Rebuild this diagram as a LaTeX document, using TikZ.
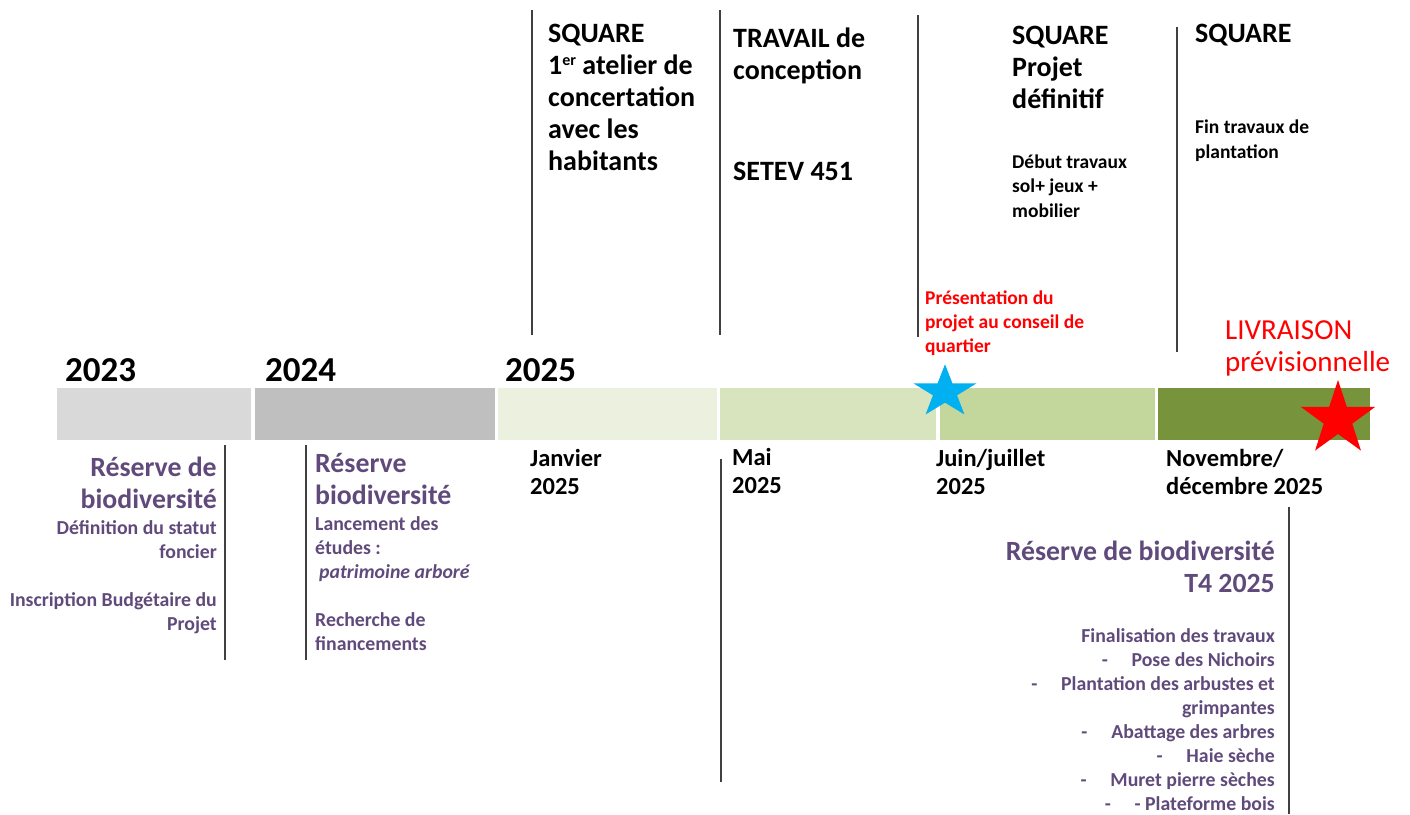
\documentclass[tikz,border=0pt]{standalone}
\usepackage{fontspec}
\setmainfont{Carlito}
\usetikzlibrary{positioning,shapes.geometric}
\definecolor{segA}{HTML}{D9D9D9}
\definecolor{segB}{HTML}{BFBFBF}
\definecolor{segC}{HTML}{EBF1DE}
\definecolor{segD}{HTML}{D7E4BD}
\definecolor{segE}{HTML}{C3D69B}
\definecolor{segF}{HTML}{77933C}
\definecolor{biopurple}{HTML}{604A7B}
\definecolor{starblue}{HTML}{00B0F0}
\definecolor{tickgray}{HTML}{404040}
\newcommand{\supsm}[1]{\raisebox{9pt}{\fontsize{16}{16}\selectfont #1}}
\begin{document}
\begin{tikzpicture}[x=1pt, y=-1pt,
    seg/.style={inner sep=0pt, minimum height=52pt},
    tick/.style={line width=1.6pt, draw=tickgray},
    yearlbl/.style={font=\bfseries\fontsize{35}{40}\selectfont, anchor=base west, inner sep=0pt},
    toplbl/.style={font=\bfseries\fontsize{28}{32}\selectfont, align=left, anchor=base west, inner sep=0pt},
    topsmall/.style={font=\bfseries\fontsize{19.5}{24.5}\selectfont, align=left, anchor=base west, inner sep=0pt},
    datelbl/.style={font=\bfseries\fontsize{24.5}{27.5}\selectfont, align=left, anchor=base west, inner sep=0pt},
    redlbl/.style={font=\bfseries\fontsize{19.5}{24}\selectfont, text=red, align=left, anchor=base west, inner sep=0pt},
    livlbl/.style={font=\fontsize{29}{32}\selectfont, text=red, align=left, anchor=base west, inner sep=0pt},
    purbig/.style={font=\bfseries\fontsize{27.8}{32}\selectfont, text=biopurple, align=right, anchor=base east, inner sep=0pt},
    pursmall/.style={font=\bfseries\fontsize{19.8}{24}\selectfont, text=biopurple, align=right, anchor=base east, inner sep=0pt},
    marker/.style={star, star points=5, star point ratio=2.6, inner sep=0pt}]
  \useasboundingbox (0,0) rectangle (1410,814);
  % the bar
  \node[seg, fill=segA, minimum width=194pt, anchor=north west] (s23) at (57,388) {};
  \node[seg, fill=segB, minimum width=240pt, right=3pt of s23] (s24) {};
  \node[seg, fill=segC, minimum width=219pt, right=3pt of s24] (s25) {};
  \node[seg, fill=segD, minimum width=216pt, right=3pt of s25] (smai) {};
  \node[seg, fill=segE, minimum width=215pt, right=3pt of smai] (sjuin) {};
  \node[seg, fill=segF, minimum width=212pt, right=3pt of sjuin] (snov) {};
  % ticks
  \foreach \x/\ya/\yb in {532/10/335, 720/10/335, 918/15/337, 1177/27/352,
      225/445/660, 306/445/660, 721/459/782, 1289/507/814}
    \draw[tick] (\x,\ya) -- (\x,\yb);
  % years
  \node[yearlbl] (y23) at (65,381) {2023};
  \node[yearlbl] (y24) at (265,381) {2024};
  \node[yearlbl] (y25) at (505,381) {2025};
  % above the bar (anchor = baseline of the last line)
  \node[toplbl] (atelier) at (548,170) {SQUARE\\1\supsm{er} atelier de\\concertation\\avec les\\habitants};
  \node[toplbl] (travail) at (733,180) {TRAVAIL de\\conception\\[69pt]SETEV 451};
  \node[toplbl] (definitif) at (1012,108) {SQUARE\\Projet\\définitif};
  \node[topsmall] (debut) at (1012,217) {Début travaux\\sol+ jeux +\\mobilier};
  \node[toplbl] (fin) at (1195,42) {SQUARE};
  \node[topsmall] (plantation) at (1195,158) {Fin travaux de\\plantation};
  \node[redlbl] (conseil) at (925,352) {Présentation du\\projet au conseil de\\quartier};
  \node[livlbl] (livraison) at (1225,371) {LIVRAISON\\prévisionnelle};
  % dates
  \node[datelbl] (janv) at (530,494) {Janvier\\2025};
  \node[datelbl] (mai) at (732,493) {Mai\\2025};
  \node[datelbl] (juin) at (936,494) {Juin/juillet\\2025};
  \node[datelbl] (nov) at (1166,494) {Novembre/\\décembre 2025};
  % reserve de biodiversite
  \node[purbig] (res23) at (217,508) {Réserve de\\biodiversité};
  \node[pursmall] (foncier) at (217,630) {Définition du statut\\foncier\\[24pt]Inscription Budgétaire du\\Projet};
  \node[purbig, align=left, anchor=base west] (res24) at (315,504) {Réserve\\biodiversité};
  \node[pursmall, align=left, anchor=base west] (etudes) at (315,650) {Lancement des\\études :\\\hspace*{4pt}\textit{patrimoine arboré}\\[24pt]Recherche de\\financements};
  \node[purbig] (res25) at (1275,592) {Réserve de biodiversité\\T4 2025};
  \node[pursmall] (travaux) at (1275,810) {Finalisation des travaux\\-\hspace{1.2em}Pose des Nichoirs\\-\hspace{1.2em}Plantation des arbustes et\\grimpantes\\-\hspace{1.2em}Abattage des arbres\\-\hspace{1.2em}Haie sèche\\-\hspace{1.2em}Muret pierre sèches\\-\hspace{1.2em}- Plateforme bois};
  % stars
  \begin{scope}[shift={(945,392)}, yscale=0.84]
    \node[marker, minimum size=66pt, fill=starblue, transform shape] (bluestar) at (0,0) {};
  \end{scope}
  \node[marker, minimum size=78pt, fill=red] (redstar) at (1338,419) {};
\end{tikzpicture}
\end{document}
